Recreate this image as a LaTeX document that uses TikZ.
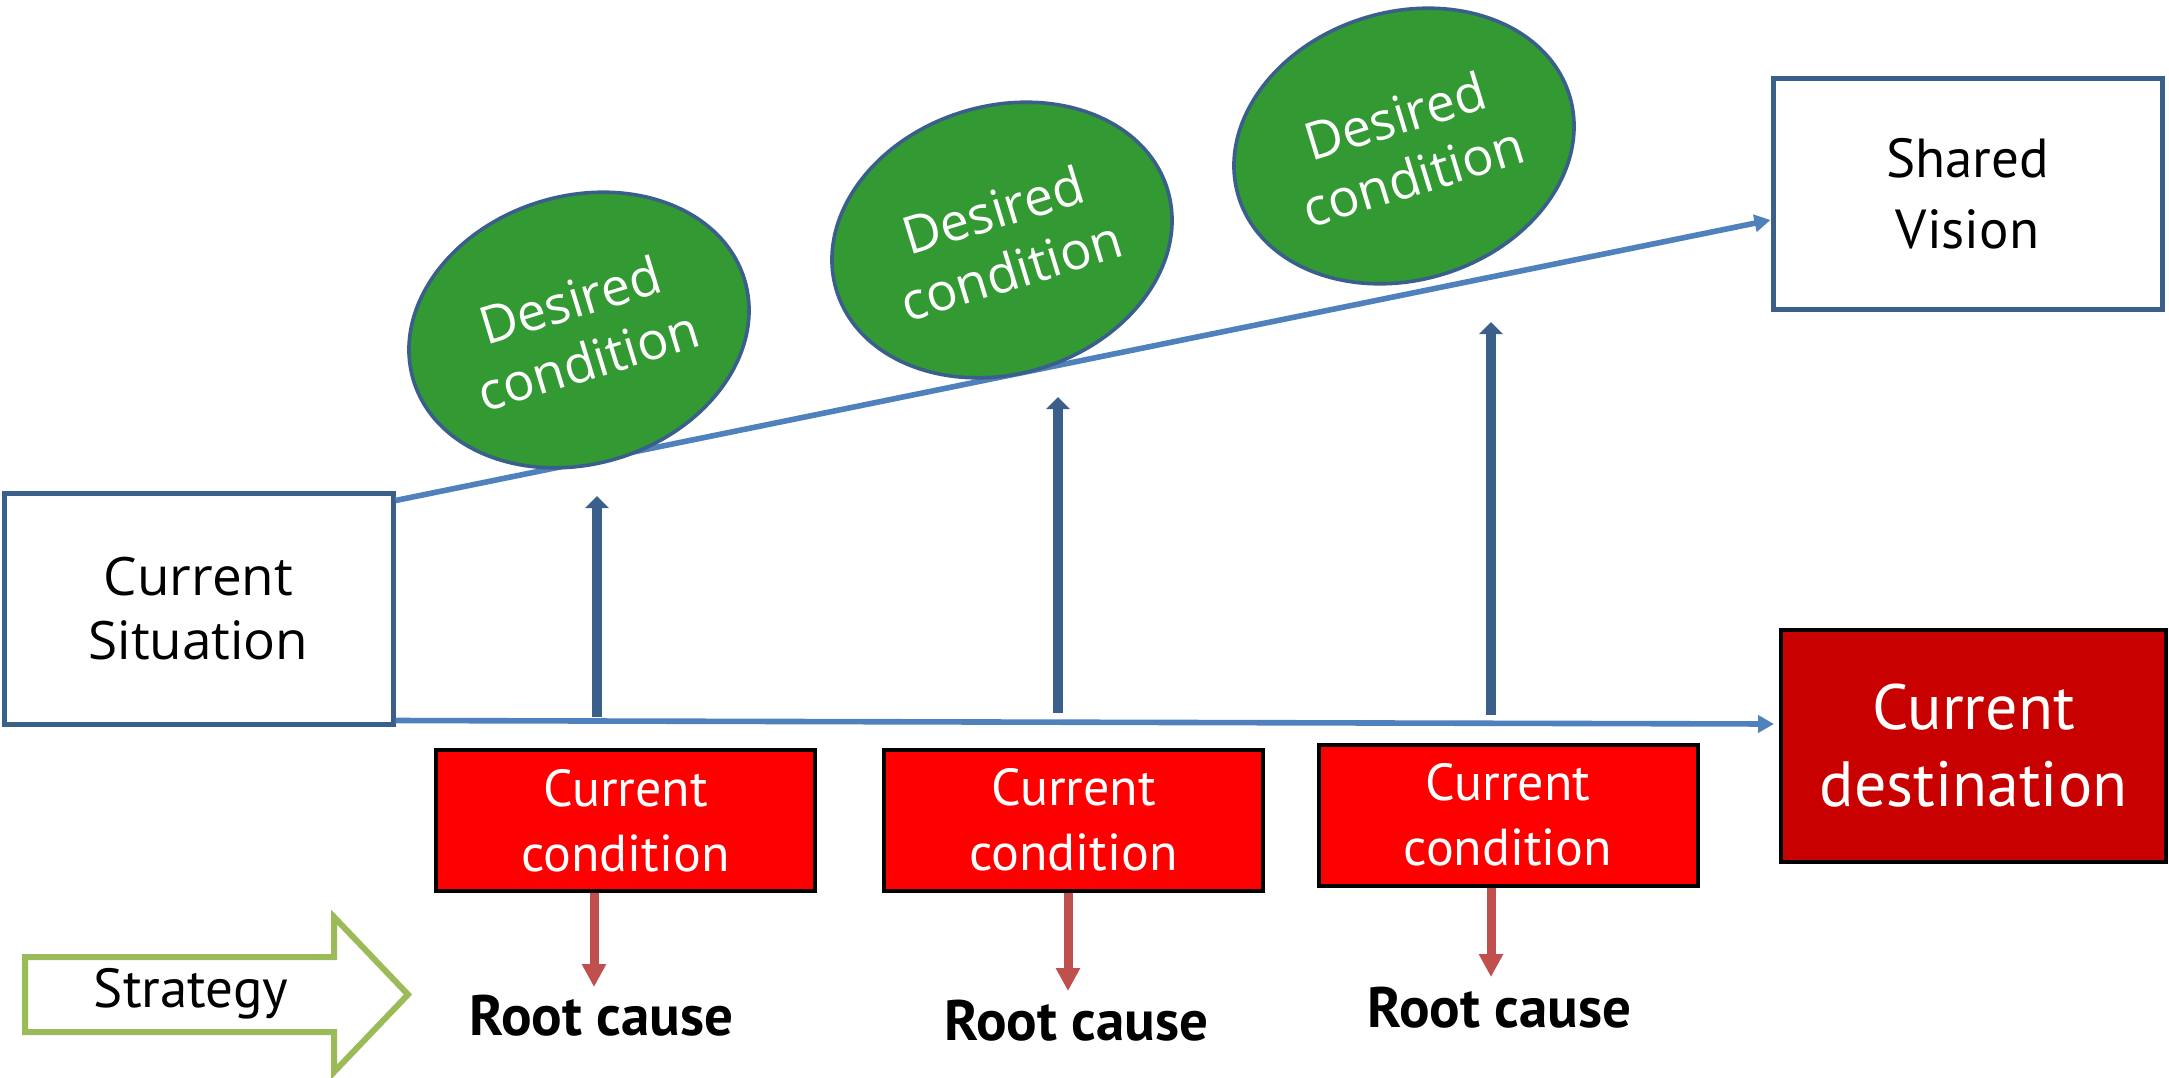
\documentclass[tikz,border=0pt]{standalone}
\usepackage{fontspec}
\setmainfont{Open Sans}
\newfontfamily\gill{PT Sans}
\usetikzlibrary{arrows.meta,shapes.geometric,calc}
\definecolor{boxblue}{HTML}{3A5F8B}
\definecolor{lineblue}{HTML}{4F81BD}
\definecolor{dgreen}{HTML}{339933}
\definecolor{ccred}{HTML}{FF0000}
\definecolor{cdred}{HTML}{C80000}
\definecolor{arrred}{HTML}{C0504D}
\definecolor{stratgreen}{HTML}{9BBB59}
\begin{document}
\begin{tikzpicture}[x=0.5pt,y=-0.5pt,
  wbox/.style={draw=boxblue, line width=2.5pt, fill=white, inner sep=0pt, align=center,
    minimum width=194.5pt, minimum height=115.5pt},
  ccbox/.style={draw=black, line width=2pt, fill=ccred, text=white, inner sep=0pt, align=center,
    minimum width=189.5pt, minimum height=70.5pt, font=\gill\fontsize{26}{32.5}\selectfont},
  desired/.style={ellipse, draw=boxblue, line width=1.8pt, fill=dgreen, text=white, inner sep=0pt,
    minimum width=173pt, minimum height=134pt, rotate=17, align=center,
    font=\fontsize{26}{31.5}\selectfont},
  lblue/.style={draw=lineblue, line width=2.8pt, -{Triangle[width=8.5pt,length=8pt]}},
  vblue/.style={draw=boxblue, line width=5pt, -{Triangle[width=11.5pt,length=6pt]}},
  rarr/.style={draw=arrred, line width=4.5pt, -{Triangle[width=11.5pt,length=11.5pt]}},
  rootlbl/.style={anchor=base, inner sep=0pt, font=\gill\bfseries\fontsize{28.5}{30}\selectfont},
]
\useasboundingbox (0,0) rectangle (2169,1077);

% boxes
\node[wbox, font=\fontsize{26.5}{32}\selectfont] (CS) at (198.5,608.5) {Current\\Situation};
\node[wbox, font=\gill\fontsize{27.5}{35.5}\selectfont] (SV) at (1967.5,193.5) {Shared\\Vision};
\node[draw=black, line width=2pt, fill=cdred, text=white, inner sep=0pt, align=center,
      minimum width=192.5pt, minimum height=116pt, font=\gill\fontsize{32}{38.5}\selectfont]
      (CD) at (1973.5,746) {Current\\destination};

% main lines
\draw[lblue] ($(CS.north east)+(0,10)$) -- ($(SV.west)+(0,26.5)$);
\draw[lblue] ($(CS.south east)+(0,-6)$) -- ($(CD.west)+(-5,-22)$);

% desired conditions
\node[desired] (D1) at (579,330) {Desired\\condition};
\node[desired] (D2) at (1002,240) {Desired\\condition};
\node[desired] (D3) at (1404,146) {Desired\\condition};

% vertical arrows
\coordinate (v1b) at (597,717); \coordinate (v1t) at (597,496);
\coordinate (v2b) at (1058,713); \coordinate (v2t) at (1058,397);
\coordinate (v3b) at (1491,715); \coordinate (v3t) at (1491,322);
\draw[vblue] (v1b) -- (v1t);
\draw[vblue] (v2b) -- (v2t);
\draw[vblue] (v3b) -- (v3t);

% current conditions
\node[ccbox] (CC1) at (625.5,820.5) {Current\\condition};
\node[ccbox] (CC2) at (1073.5,820) {Current\\condition};
\node[ccbox] (CC3) at (1508,815) {Current\\condition};

% root causes
\coordinate (r1) at (594,987);
\coordinate (r2) at (1068,991);
\coordinate (r3) at (1491,977);
\draw[rarr] ($(CC1.south)+(-31.5,0)$) -- (r1);
\draw[rarr] ($(CC2.south)+(-5.5,0)$) -- (r2);
\draw[rarr] ($(CC3.south)+(-17,0)$) -- (r3);
\node[rootlbl] (RC1) at (601.5,1035) {Root cause};
\node[rootlbl] (RC2) at (1076.5,1040) {Root cause};
\node[rootlbl] (RC3) at (1499.5,1027) {Root cause};

% strategy arrow
\draw[draw=stratgreen, line width=3pt, fill=white, line join=miter]
  (25,957) -- (334,957) -- (334,917) -- (408,994.5) -- (334,1072) -- (334,1032) -- (25,1032) -- cycle;
\node[anchor=base, inner sep=0pt, font=\gill\fontsize{27.5}{30}\selectfont] (ST) at (191,1007) {Strategy};
\end{tikzpicture}
\end{document}
